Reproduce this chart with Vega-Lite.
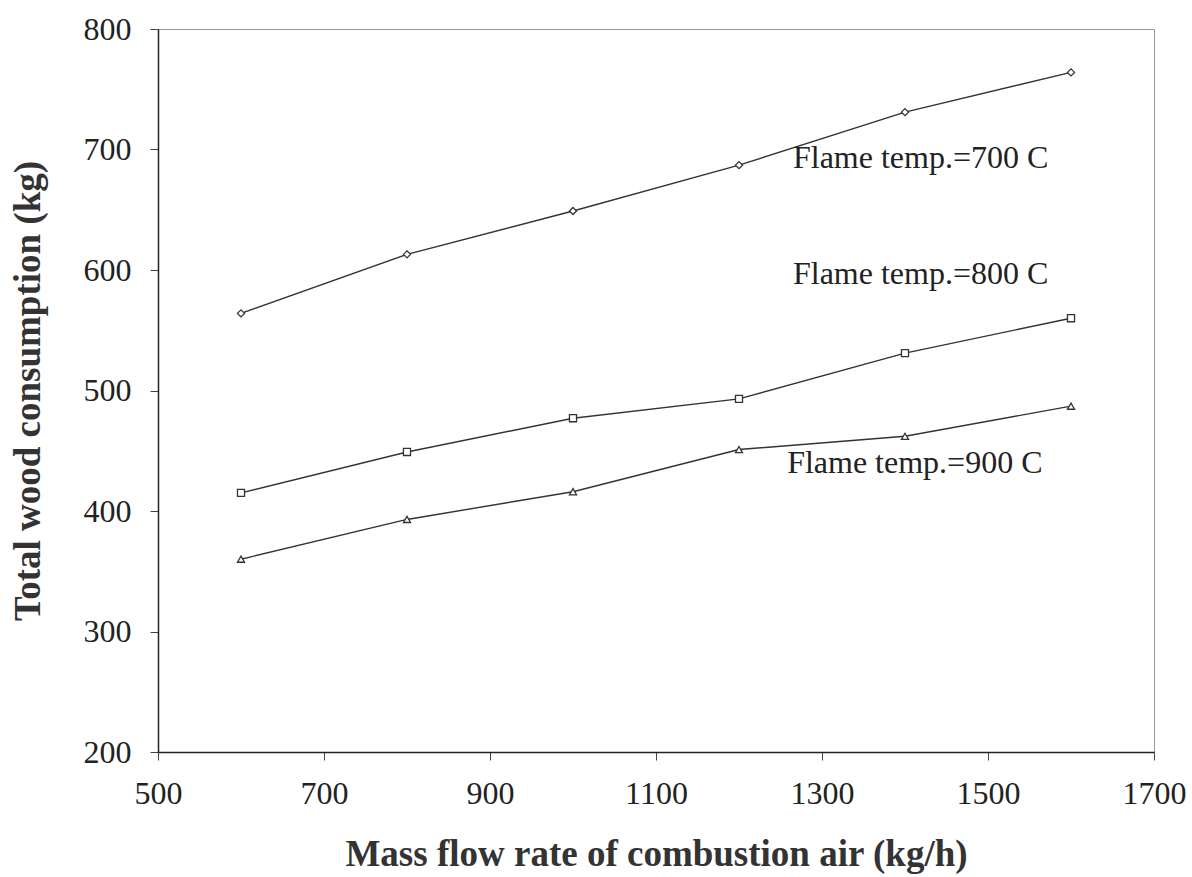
{
  "$schema": "https://vega.github.io/schema/vega-lite/v6.json",
  "width": 996,
  "height": 723,
  "autosize": {"type": "none"},
  "padding": {"left": 158, "top": 29, "right": 38, "bottom": 125},
  "background": "white",
  "config": {
    "font": "Liberation Serif",
    "view": {"stroke": "#999", "strokeWidth": 1},
    "axis": {
      "grid": false,
      "domainColor": "#222",
      "domainWidth": 1.5,
      "tickColor": "#444",
      "tickSize": 8,
      "labelFont": "Liberation Serif",
      "labelFontSize": 32,
      "labelColor": "#222",
      "titleFont": "Liberation Serif",
      "titleFontSize": 37,
      "titleFontWeight": "bold",
      "titleColor": "#333"
    }
  },
  "datasets": {
    "series": [
      {"air": 600, "wood": 564, "flame": "700"},
      {"air": 800, "wood": 613, "flame": "700"},
      {"air": 1000, "wood": 649, "flame": "700"},
      {"air": 1200, "wood": 687, "flame": "700"},
      {"air": 1400, "wood": 731, "flame": "700"},
      {"air": 1600, "wood": 764, "flame": "700"},
      {"air": 600, "wood": 415, "flame": "800"},
      {"air": 800, "wood": 449, "flame": "800"},
      {"air": 1000, "wood": 477, "flame": "800"},
      {"air": 1200, "wood": 493, "flame": "800"},
      {"air": 1400, "wood": 531, "flame": "800"},
      {"air": 1600, "wood": 560, "flame": "800"},
      {"air": 600, "wood": 360, "flame": "900"},
      {"air": 800, "wood": 393, "flame": "900"},
      {"air": 1000, "wood": 416, "flame": "900"},
      {"air": 1200, "wood": 451, "flame": "900"},
      {"air": 1400, "wood": 462, "flame": "900"},
      {"air": 1600, "wood": 487, "flame": "900"}
    ],
    "labels": [
      {"air": 1265, "wood": 693, "text": "Flame temp.=700 C"},
      {"air": 1265, "wood": 597, "text": "Flame temp.=800 C"},
      {"air": 1258, "wood": 440, "text": "Flame temp.=900 C"}
    ]
  },
  "layer": [
    {
      "data": {"name": "series"},
      "mark": {"type": "line", "color": "#333", "strokeWidth": 1.4},
      "encoding": {
        "x": {
          "field": "air", "type": "quantitative",
          "scale": {"domain": [500, 1700], "nice": false},
          "axis": {"values": [500, 700, 900, 1100, 1300, 1500, 1700], "format": "d", "labelFlush": false, "title": "Mass flow rate of combustion air (kg/h)", "labelPadding": 18, "titlePadding": 27}
        },
        "y": {
          "field": "wood", "type": "quantitative",
          "scale": {"domain": [200, 800], "nice": false, "zero": false},
          "axis": {"values": [200, 300, 400, 500, 600, 700, 800], "format": "d", "labelFlush": false, "title": "Total wood consumption (kg)", "labelPadding": 19, "titlePadding": 36}
        },
        "detail": {"field": "flame"}
      }
    },
    {
      "data": {"name": "series"},
      "mark": {"type": "point", "filled": true, "fill": "white", "stroke": "#333", "strokeWidth": 1.3, "size": 50, "opacity": 1},
      "encoding": {
        "x": {"field": "air", "type": "quantitative"},
        "y": {"field": "wood", "type": "quantitative"},
        "shape": {
          "field": "flame", "type": "nominal",
          "scale": {"domain": ["700", "800", "900"], "range": ["diamond", "square", "triangle-up"]},
          "legend": null
        }
      }
    },
    {
      "data": {"name": "labels"},
      "mark": {"type": "text", "align": "left", "baseline": "middle", "fontSize": 32, "font": "Liberation Serif", "color": "#222"},
      "encoding": {
        "x": {"field": "air", "type": "quantitative"},
        "y": {"field": "wood", "type": "quantitative"},
        "text": {"field": "text"}
      }
    }
  ]
}
